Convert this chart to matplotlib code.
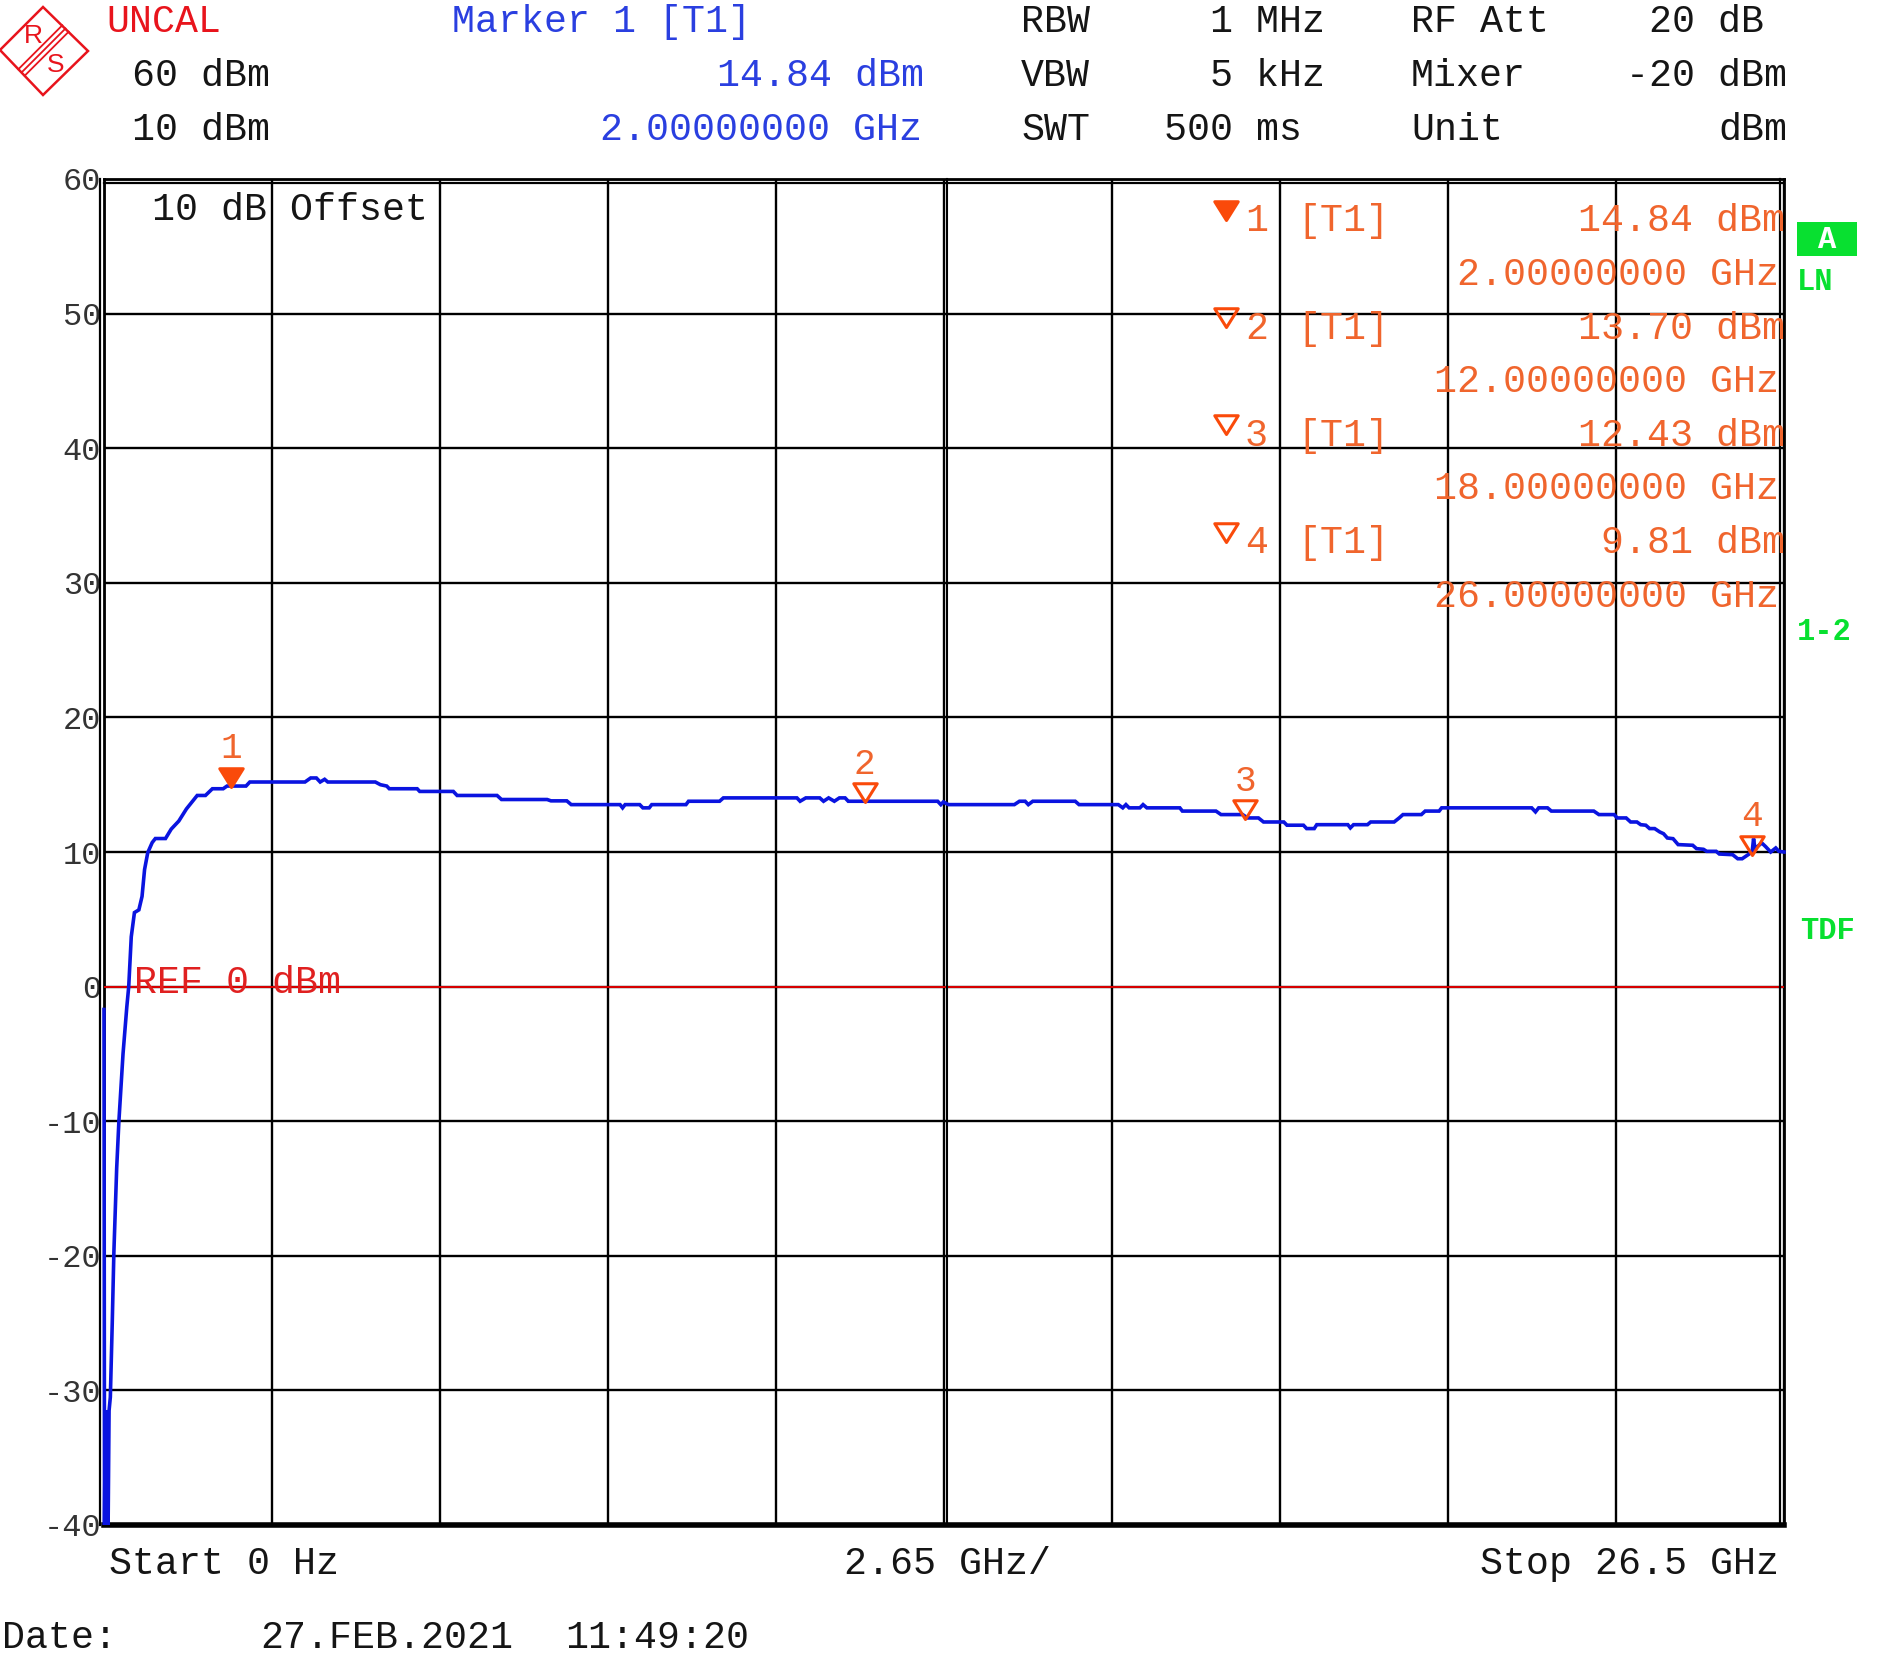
import matplotlib
matplotlib.use("Agg")
import matplotlib.pyplot as plt
from matplotlib.path import Path
from matplotlib.patches import Polygon, Rectangle
from matplotlib import transforms

W, H = 1882, 1657
FONT = "Liberation Mono"

# ---------------- data ----------------
freq_ghz = [
    0.0, 0.008, 0.02, 0.035, 0.05, 0.065, 0.08, 0.1, 0.13, 0.156,
    0.2, 0.235, 0.3, 0.36, 0.39, 0.43, 0.48, 0.55, 0.6, 0.64,
    0.69, 0.76, 0.81, 0.97, 1.06, 1.18, 1.3, 1.47, 1.6, 1.71,
    1.88, 1.94, 2.24, 2.3, 3.17, 3.26, 3.35, 3.41, 3.48, 3.53,
    4.28, 4.36, 4.46, 4.5, 4.94, 4.98, 5.51, 5.57, 6.2, 6.27,
    6.99, 7.05, 7.3, 7.37, 8.14, 8.18, 8.22, 8.45, 8.5, 8.6,
    8.64, 9.18, 9.22, 9.71, 9.77, 10.93, 10.98, 11.07, 11.29, 11.35,
    11.43, 11.52, 11.6, 11.69, 11.74, 13.15, 13.2, 13.24, 13.32, 14.36,
    14.44, 14.53, 14.58, 14.65, 15.32, 15.38, 16.0, 16.07, 16.12, 16.17,
    16.34, 16.39, 16.45, 16.97, 17.01, 17.54, 17.62, 17.96, 18.04, 18.21,
    18.29, 18.61, 18.66, 18.92, 18.97, 19.09, 19.13, 19.62, 19.66, 19.71,
    19.93, 19.98, 20.35, 20.43, 20.49, 20.78, 20.84, 21.06, 21.1, 22.52,
    22.58, 22.63, 22.77, 22.83, 23.5, 23.58, 23.82, 23.87, 24.01, 24.08,
    24.18, 24.24, 24.32, 24.38, 24.46, 24.54, 24.6, 24.66, 24.75, 24.83,
    25.06, 25.12, 25.23, 25.28, 25.43, 25.48, 25.69, 25.77, 25.84, 25.95,
    26.0, 26.02, 26.04, 26.08, 26.15, 26.21, 26.29, 26.37, 26.42, 26.5,
]
level_dbm = [
    -1.7, -40.0, -32.0, -40.0, -31.5, -40.0, -31.5, -30.5, -25.0, -19.7,
    -13.5, -10.0, -5.0, -1.5, 0.0, 3.7, 5.5, 5.7, 6.7, 8.7,
    9.95, 10.7, 11.0, 11.0, 11.7, 12.3, 13.2, 14.2, 14.2, 14.7,
    14.7, 14.9, 14.9, 15.2, 15.2, 15.5, 15.5, 15.2, 15.4, 15.2,
    15.2, 15.0, 14.9, 14.7, 14.7, 14.5, 14.5, 14.2, 14.2, 13.9,
    13.9, 13.8, 13.8, 13.52, 13.52, 13.28, 13.52, 13.52, 13.28, 13.28,
    13.52, 13.52, 13.77, 13.77, 14.02, 14.02, 13.77, 14.02, 14.02, 13.77,
    14.02, 13.77, 14.02, 14.02, 13.77, 13.77, 13.52, 13.72, 13.52, 13.52,
    13.77, 13.77, 13.52, 13.77, 13.77, 13.52, 13.52, 13.28, 13.52, 13.28,
    13.28, 13.52, 13.28, 13.28, 13.04, 13.04, 12.78, 12.78, 12.53, 12.53,
    12.23, 12.23, 11.99, 11.99, 11.74, 11.74, 12.03, 12.03, 11.79, 12.03,
    12.03, 12.23, 12.23, 12.53, 12.78, 12.78, 13.04, 13.04, 13.28, 13.28,
    12.98, 13.28, 13.28, 13.04, 13.04, 12.78, 12.78, 12.53, 12.53, 12.23,
    12.23, 12.03, 11.99, 11.74, 11.74, 11.49, 11.36, 11.04, 10.99, 10.55,
    10.5, 10.25, 10.2, 10.05, 10.05, 9.85, 9.8, 9.5, 9.5, 9.85,
    10.1, 11.0, 10.3, 10.4, 10.67, 10.4, 10.0, 10.3, 10.05, 10.0,
]

marker_ids = [1, 2, 3, 4]
marker_freq_ghz = [2.0, 12.0, 18.0, 26.0]
marker_level_dbm = [14.84, 13.70, 12.43, 9.81]
marker_level_text = ["14.84 dBm", "13.70 dBm", "12.43 dBm", "9.81 dBm"]
marker_freq_text = ["2.00000000 GHz", "12.00000000 GHz", "18.00000000 GHz", "26.00000000 GHz"]

y_ticks = [60, 50, 40, 30, 20, 10, 0, -10, -20, -30, -40]
span_ghz = 26.5
div_ghz = 2.65
ref_level_dbm = 0

# ---------------- colours ----------------
BLUE_TRACE = "#0a14e0"
ORANGE_TXT = "#f0652d"
ORANGE_MK = "#fa4a0a"
RED = "#e8141c"
BLUE_TXT = "#2a3fe0"
GREEN = "#08e030"
DARK = "#151515"

fig = plt.figure(figsize=(W / 100, H / 100), dpi=100)
fig.patch.set_facecolor("white")

AX_L, AX_R, AX_T, AX_B = 104, 1784, 179, 1525
ax = fig.add_axes([AX_L / W, 1 - AX_B / H, (AX_R - AX_L) / W, (AX_B - AX_T) / H])
ax.set_xlim(0, span_ghz)
ax.set_ylim(-40, 60)
ax.set_xticks([i * div_ghz for i in range(11)])
ax.set_xticklabels([])
ax.set_yticks(y_ticks)
ax.set_yticklabels([str(v) for v in y_ticks], fontfamily=FONT, fontsize=23, color="#333333")
ax.tick_params(length=0, pad=2)
ax.grid(True, color="black", lw=1.7)
ax.set_axisbelow(True)
for s in ["left", "right", "top"]:
    ax.spines[s].set_linewidth(2.0)
ax.spines["bottom"].set_linewidth(4.0)

# double frame lines and doubled centre line
def vline_off(xfrac, dx, lw=1.6):
    tr = transforms.offset_copy(ax.transAxes, fig=fig, x=dx, y=0, units="dots")
    ax.plot([xfrac, xfrac], [0, 1], transform=tr, color="black", lw=lw, clip_on=False, zorder=4)

vline_off(0, -4)
vline_off(1, -4)
vline_off(0.5, 3, lw=1.5)
tr_top = transforms.offset_copy(ax.transAxes, fig=fig, x=0, y=-4, units="dots")
ax.plot([0, 1], [1, 1], transform=tr_top, color="black", lw=1.6, clip_on=False, zorder=4)

# reference line
ax.plot([0, span_ghz], [ref_level_dbm, ref_level_dbm], color="#ee0000", lw=1.3, zorder=3)

# trace
ax.plot(freq_ghz, level_dbm, color=BLUE_TRACE, lw=2.6, zorder=5, clip_on=False,
        solid_joinstyle="miter")

# markers (tip at the marker point)
tri = Path([(-1, 1.6), (1, 1.6), (0, 0), (0, 0)], closed=True)
for mid, f, lv in zip(marker_ids, marker_freq_ghz, marker_level_dbm):
    filled = mid == 1
    ax.plot([f], [lv], ls="none", marker=tri, ms=27,
            mfc=ORANGE_MK if filled else "none", mec=ORANGE_MK, mew=2.2,
            zorder=7, clip_on=False)
    ax.annotate(str(mid), (f, lv), xytext=(0, 38), textcoords="offset pixels",
                ha="center", va="center", fontfamily=FONT, fontsize=26,
                color=ORANGE_TXT, zorder=8)

# ---------------- overlay in pixel coordinates ----------------
ov = fig.add_axes([0, 0, 1, 1], zorder=10)
ov.set_xlim(0, W)
ov.set_ylim(H, 0)
ov.axis("off")
ov.patch.set_alpha(0)

FS = 27.5
HALF_CAP = 10.9


def T(x, yc, s, ha="left", color=DARK, fs=FS, weight="normal", family=FONT):
    ov.text(x, yc + HALF_CAP * fs / FS, s, ha=ha, va="baseline", color=color,
            fontsize=fs, fontfamily=family, fontweight=weight)


# header
T(106, 21.6, "UNCAL", color=RED)
T(132, 75.6, "60 dBm")
T(132, 129.6, "10 dBm")
T(452, 21.6, "Marker 1 [T1]", color=BLUE_TXT)
T(924, 75.6, marker_level_text[0], ha="right", color=BLUE_TXT)
T(922, 129.6, marker_freq_text[0], ha="right", color=BLUE_TXT)
T(1021, 21.6, "RBW")
T(1021, 75.6, "VBW")
T(1021, 129.6, "SWT")
T(1325, 21.6, "1 MHz", ha="right")
T(1325, 75.6, "5 kHz", ha="right")
T(1325, 129.6, "500 ms ", ha="right")
T(1411, 21.6, "RF Att")
T(1411, 75.6, "Mixer")
T(1411, 129.6, "Unit")
T(1787, 21.6, "20 dB ", ha="right")
T(1787, 75.6, "-20 dBm", ha="right")
T(1787, 129.6, "dBm", ha="right")

# in-grid labels
T(152, 209, "10 dB Offset")
T(134, 982, "REF 0 dBm", color="#e02020")

# marker table
row_y = [220, 274, 328, 381, 435, 488, 542, 596]
tip_y = [220, 327, 434, 542]
for i, mid in enumerate(marker_ids):
    ov.plot([1226.5], [tip_y[i]], ls="none", marker=tri, ms=27,
            mfc=ORANGE_MK if mid == 1 else "none", mec=ORANGE_MK, mew=2.2)
    T(1245, row_y[2 * i], str(mid), color=ORANGE_TXT)
    T(1297, row_y[2 * i], "[T1]", color=ORANGE_TXT)
    T(1785, row_y[2 * i], marker_level_text[i], ha="right", color=ORANGE_TXT)
    T(1779, row_y[2 * i + 1], marker_freq_text[i], ha="right", color=ORANGE_TXT)

# right side status labels
ov.add_patch(Rectangle((1797, 222), 60, 34, facecolor=GREEN, edgecolor="none"))
T(1827, 239, "A", ha="center", color="white", fs=22, weight="bold")
T(1797, 281, "LN", color=GREEN, fs=22, weight="bold")
T(1797, 631, "1-2", color=GREEN, fs=22, weight="bold")
T(1800, 930, "TDF", color=GREEN, fs=22, weight="bold")

# bottom labels
T(109, 1563, "Start 0 Hz")
T(844, 1563, "2.65 GHz/")
T(1779, 1563, "Stop 26.5 GHz", ha="right")
T(2, 1637, "Date:")
T(260, 1637, "27.FEB.2021")
T(565, 1637, "11:49:20")

# R&S logo
diamond = [(43, 7), (88, 51), (43, 95), (0, 50)]
ov.add_patch(Polygon(diamond, closed=True, fill=False, edgecolor=RED, lw=1.8))
for d in (-3.2, 0.0, 3.2):
    ov.plot([21.5 + d, 65.5 + d], [72.5 + d, 28.5 + d], color=RED, lw=1.3)
ov.text(33, 36, "R", ha="center", va="center", color=RED, fontsize=19,
        fontfamily="Liberation Sans")
ov.text(56, 65, "S", ha="center", va="center", color=RED, fontsize=19,
        fontfamily="Liberation Sans")

fig.savefig("out.png", dpi=100)
